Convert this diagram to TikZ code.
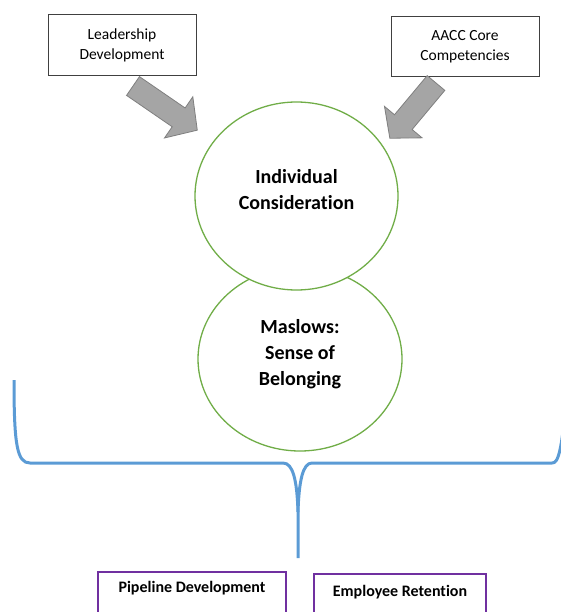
\documentclass[tikz,border=0pt]{standalone}
\usepackage{fontspec}
\setmainfont{Carlito}[Ligatures={NoCommon}]
\usetikzlibrary{shapes.geometric}
\definecolor{cgreen}{HTML}{70AD47}
\definecolor{cblue}{HTML}{5B9BD5}
\definecolor{cpurple}{HTML}{7030A0}
\definecolor{agray}{HTML}{A5A5A5}
\definecolor{agrayd}{HTML}{7F7F7F}
\begin{document}
\begin{tikzpicture}[x=1pt,y=-1pt,
  topbox/.style={draw=black!75, line width=0.8pt, fill=white, align=center,
    font=\fontsize{15.5}{20}\selectfont, inner sep=0pt},
  circ/.style={ellipse, draw=cgreen, line width=1.3pt, fill=white, inner sep=0pt},
  circtext/.style={align=center, font=\bfseries\fontsize{20}{26}\selectfont, inner sep=0pt},
  botbox/.style={draw=cpurple, line width=2pt, fill=white, anchor=north west,
    font=\bfseries\fontsize{16}{19}\selectfont, text height=12pt, text depth=40pt, inner xsep=0pt},
  blockarrow/.style={fill=agray, draw=agrayd, line width=0.8pt, line join=miter},
  bracepath/.style={draw=cblue, line width=3pt}]
\useasboundingbox (0,0) rectangle (560,612);

% top boxes
\node[topbox, minimum width=148pt, minimum height=61pt] (ld) at (122,45) {Leadership\\Development};
\node[topbox, minimum width=148pt, minimum height=60pt] (aacc) at (465,46.5) {AACC Core\\Competencies};

% circles
\node[circ, minimum width=204pt, minimum height=184pt] (c2) at (300,359) {};
\node[circ, minimum width=203pt, minimum height=188pt] (c1) at (296.5,196) {};
\node[circtext] (t1) at (296.5,190) {Individual\\Consideration};
\node[circtext] (t2) at (300,354) {Maslows:\\Sense of\\Belonging};

% block arrows
\coordinate (a1) at (133,86);
\coordinate (a2) at (436,83);
\draw[blockarrow, shift={(a1)}, rotate=-34.5]
  (0,-11.4) -- (55.4,-11.4) -- (55.4,-25) -- (78,0) -- (55.4,25) -- (55.4,11.4) -- (0,11.4) -- cycle;
\draw[blockarrow, shift={(a2)}, rotate=-129.9]
  (0,-11.5) -- (51,-11.5) -- (51,-24.5) -- (72,0) -- (51,24.5) -- (51,11.5) -- (0,11.5) -- cycle;

% brace
\coordinate (bl) at (14,380);
\coordinate (bm) at (298,512);
\coordinate (bb) at (298,558);
\coordinate (br) at (568,380);
\draw[bracepath] (bl) .. controls (14,445) and (17,463) .. (30,463) -- (283,463)
  .. controls (293,463) and (297,480) .. (bm) -- (bb);
\draw[bracepath] (bm) .. controls (299,480) and (303,463) .. (312,463) -- (552,463)
  .. controls (558,463) and (562,455) .. (br);

% bottom boxes
\node[botbox, minimum width=188pt, inner ysep=8pt] (pd) at (97,571) {Pipeline Development};
\node[botbox, minimum width=172pt, inner ysep=10pt] (er) at (313,573) {Employee Retention};
\end{tikzpicture}
\end{document}
